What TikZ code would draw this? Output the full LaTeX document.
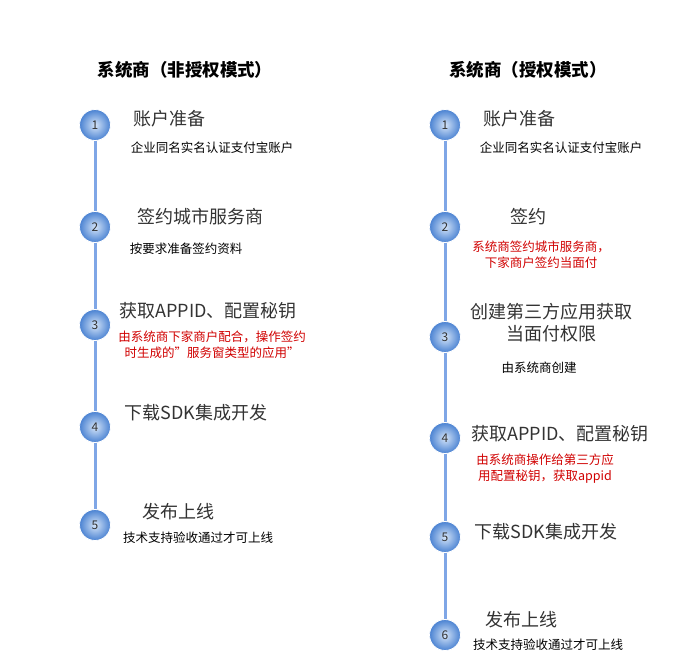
\documentclass[tikz,border=0pt]{standalone}
\usepackage{fontspec}
\setmainfont{Noto Sans CJK SC}
\usetikzlibrary{positioning}
\definecolor{trackblue}{HTML}{7FA6E6}
\definecolor{ballblue}{HTML}{4A82D2}
\definecolor{balllight}{HTML}{D4E4F8}
\definecolor{headgray}{HTML}{333333}
\definecolor{notered}{HTML}{D00000}

\begin{document}
\begin{tikzpicture}[x=1pt,y=-1pt]
\tikzset{
  stepball/.style={circle,inner color=balllight,outer color=ballblue,draw=white,line width=0.8pt,minimum size=31pt,inner sep=0pt,text=headgray,font=\fontsize{12}{13}\selectfont},
  track/.style={trackblue,line width=3pt},
  title/.style={font=\fontsize{17.5}{20}\selectfont\bfseries,text=black},
  head/.style={font=\fontsize{18}{22}\selectfont,text=headgray,align=center},
  note/.style={font=\fontsize{12.5}{15}\selectfont,text=black,align=center},
  rednote/.style={font=\fontsize{12.5}{16}\selectfont,text=notered,align=center}
}
\useasboundingbox (0,0) rectangle (678,672);
% left column
\node[title] (tl) at (185,70) {系统商（非授权模式）};
\node[stepball] (l1) at (95,125) {1};
\node[stepball] (l2) at (95,227) {2};
\node[stepball] (l3) at (95,325) {3};
\node[stepball] (l4) at (95,427) {4};
\node[stepball] (l5) at (95,525) {5};
\draw[track] (l1) -- (l2);
\draw[track] (l2) -- (l3);
\draw[track] (l3) -- (l4);
\draw[track] (l4) -- (l5);
\node[head] (lh1) at (169,119) {账户准备};
\node[note] (ln1) at (212,148) {企业同名实名认证支付宝账户};
\node[head] (lh2) at (200,217) {签约城市服务商};
\node[note] (ln2) at (186,249) {按要求准备签约资料};
\node[head] (lh3) at (208,311) {获取APPID、配置秘钥};
\node[rednote] (ln3) at (212,345) {由系统商下家商户配合，操作签约\\时生成的"服务窗类型的应用"};
\node[head] (lh4) at (196,413) {下载SDK集成开发};
\node[head] (lh5) at (178,512) {发布上线};
\node[note] (ln5) at (198,538) {技术支持验收通过才可上线};
% right column
\node[title] (tr) at (528,70) {系统商（授权模式）};
\node[stepball] (r1) at (445,125) {1};
\node[stepball] (r2) at (445,227) {2};
\node[stepball] (r3) at (445,337) {3};
\node[stepball] (r4) at (445,438) {4};
\node[stepball] (r5) at (445,537) {5};
\node[stepball] (r6) at (445,635) {6};
\draw[track] (r1) -- (r2);
\draw[track] (r2) -- (r3);
\draw[track] (r3) -- (r4);
\draw[track] (r4) -- (r5);
\draw[track] (r5) -- (r6);
\node[head] (rh1) at (519,119) {账户准备};
\node[note] (rn1) at (561,148) {企业同名实名认证支付宝账户};
\node[head] (rh2) at (528,217) {签约};
\node[rednote] (rn2) at (541,255) {系统商签约城市服务商，\\下家商户签约当面付};
\node[head] (rh3) at (551,323) {创建第三方应用获取\\当面付权限};
\node[note] (rn3) at (539,368) {由系统商创建};
\node[head] (rh4) at (560,434) {获取APPID、配置秘钥};
\node[rednote] (rn4) at (545,469) {由系统商操作给第三方应\\用配置秘钥，获取appid};
\node[head] (rh5) at (546,532) {下载SDK集成开发};
\node[head] (rh6) at (521,620) {发布上线};
\node[note] (rn6) at (548,645) {技术支持验收通过才可上线};
\end{tikzpicture}
\end{document}
